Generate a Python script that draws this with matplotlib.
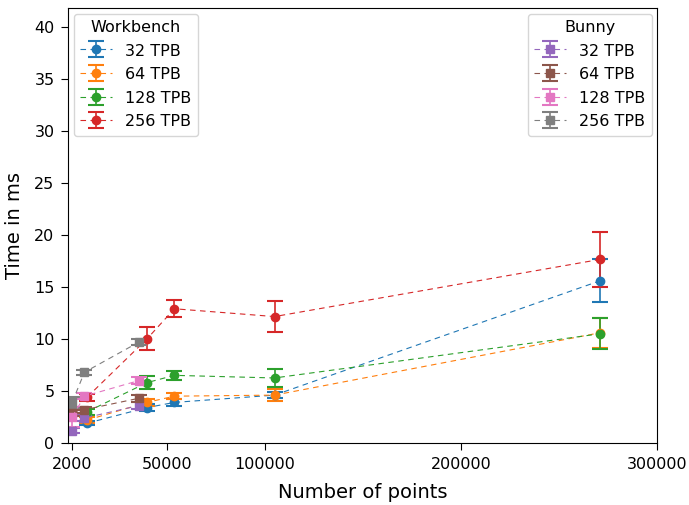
import matplotlib
matplotlib.use("Agg")
import matplotlib.pyplot as plt

# Workbench (circles)
wb_points = [9500, 40000, 54000, 105000, 271000]
wb_32 = [1.9, 3.4, 3.9, 4.6, 15.6]
wb_32_err = [0.2, 0.3, 0.3, 0.3, 2.05]
wb_64 = [2.2, 3.9, 4.5, 4.6, 10.6]
wb_64_err = [0.3, 0.3, 0.3, 0.55, 1.45]
wb_128 = [3.0, 5.8, 6.5, 6.25, 10.5]
wb_128_err = [0.3, 0.65, 0.45, 0.85, 1.5]
wb_256 = [4.4, 10.0, 12.9, 12.15, 17.65]
wb_256_err = [0.35, 1.1, 0.83, 1.5, 2.65]

# Bunny (squares)
bn_points = [1889, 8171, 35947]
bn_32 = [1.2, 2.4, 3.6]
bn_32_err = [0.2, 0.3, 0.3]
bn_64 = [2.9, 3.2, 4.3]
bn_64_err = [0.3, 0.3, 0.35]
bn_128 = [2.5, 4.5, 6.0]
bn_128_err = [1.0, 0.3, 0.3]
bn_256 = [3.9, 6.8, 9.7]
bn_256_err = [0.5, 0.25, 0.25]

labels = ["32 TPB", "64 TPB", "128 TPB", "256 TPB"]
xticks = [2000, 50000, 100000, 200000, 300000]

fig = plt.figure(figsize=(6.89, 5.05), dpi=100)
ax = fig.add_axes([0.0993, 0.1228, 0.8547, 0.8612])

style = dict(linestyle="--", dashes=(5, 4), linewidth=0.8, elinewidth=1.2,
             capsize=6, capthick=1.5, markersize=6)

wb_handles = []
for i, (y, e) in enumerate([(wb_32, wb_32_err), (wb_64, wb_64_err),
                            (wb_128, wb_128_err), (wb_256, wb_256_err)]):
    h = ax.errorbar(wb_points, y, yerr=e, fmt="o", color="C%d" % i,
                    label=labels[i], **style)
    wb_handles.append(h)

bn_handles = []
for i, (y, e) in enumerate([(bn_32, bn_32_err), (bn_64, bn_64_err),
                            (bn_128, bn_128_err), (bn_256, bn_256_err)]):
    h = ax.errorbar(bn_points, y, yerr=e, fmt="s", color="C%d" % (i + 4),
                    label=labels[i], **style)
    bn_handles.append(h)

ax.set_xlim(0, 300000)
ax.set_ylim(0, 41.8)
ax.set_xticks(xticks)
ax.set_xticklabels([str(t) for t in xticks])
ax.tick_params(labelsize=11.5, length=5, pad=5)
ax.set_xlabel("Number of points", fontsize=14, labelpad=8)
ax.set_ylabel("Time in ms", fontsize=14, labelpad=7)

leg_kw = dict(fontsize=11.5, title_fontsize=11.5, handleheight=1.0,
              borderaxespad=0.35)
leg1 = ax.legend(handles=wb_handles, title="Workbench", loc="upper left", **leg_kw)
ax.add_artist(leg1)
ax.legend(handles=bn_handles, title="Bunny", loc="upper right", **leg_kw)

fig.savefig("out.png", dpi=100)
